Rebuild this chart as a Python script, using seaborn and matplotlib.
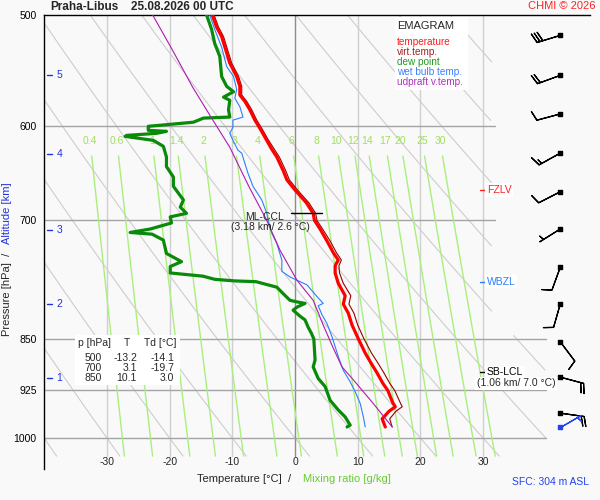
import numpy as np
import matplotlib
matplotlib.use('Agg')
import matplotlib.pyplot as plt
from matplotlib.patches import Rectangle
from matplotlib.lines import Line2D
from matplotlib.ticker import NullLocator
import seaborn as sns

# ---------- sounding ----------
pres_t = [500, 510, 518, 532, 541, 553, 562, 570, 576, 584, 594, 602, 613, 622, 631, 645, 655, 666, 680, 692,
          700, 710, 724, 738, 747, 754, 763, 776, 792, 803, 815, 831, 850, 870, 884, 899, 914, 925, 944, 950,
          957, 969, 982]
temp = [-13.2, -12.5, -11.7, -10.9, -10.4, -9.3, -8.8, -8.8, -8.0, -7.2, -6.4, -5.6, -4.6, -3.8, -2.9, -1.9, -1.3, 0.0, 1.8, 2.9,
        3.1, 4.0, 5.1, 6.1, 6.9, 6.4, 6.4, 6.9, 8.0, 7.7, 8.5, 9.1, 10.1, 11.2, 12.1, 13.1, 14.0, 14.8, 15.6, 16.0,
        15.0, 13.9, 14.4]
virt_temp = [-12.9, -12.2, -11.4, -10.6, -10.1, -9.0, -8.5, -8.5, -7.7, -6.9, -6.1, -5.3, -4.3, -3.4, -2.5, -1.5, -0.9, 0.4, 2.2, 3.3,
             3.5, 4.4, 5.6, 6.6, 7.4, 7.0, 7.1, 7.7, 8.9, 8.6, 9.4, 10.0, 11.0, 12.2, 13.2, 14.2, 15.1, 15.9, 16.8, 17.1,
             16.1, 15.1, 15.5]

pres_td = [500, 512, 524, 535, 553, 562, 567, 572, 575, 584, 591, 592, 596, 599, 600, 604, 605, 607, 609, 610,
           614, 620, 631, 641, 652, 662, 677, 685, 692, 696, 703, 710, 714, 716, 723, 739, 749, 755, 763, 767,
           771, 773, 774, 781, 790, 798, 800, 802, 807, 811, 819, 824, 834, 842, 850, 880, 890, 907, 919, 940,
           955, 966, 979, 982]
dewp = [-14.1, -13.3, -12.8, -12.0, -11.7, -10.9, -9.8, -11.4, -10.4, -10.6, -10.4, -14.6, -16.2, -21.5, -23.4, -23.4, -20.5, -22.1, -26.8, -27.1,
        -22.6, -21.0, -20.5, -20.5, -19.4, -19.4, -17.8, -18.3, -17.3, -19.9, -19.7, -23.1, -26.3, -22.8, -21.0, -20.5, -18.1, -19.9, -19.9, -14.7,
        -12.8, -9.6, -6.2, -2.9, -1.8, -0.8, 0.3, 1.6, 0.3, -0.3, 0.8, 1.6, 2.1, 2.6, 3.0, 3.2, 2.9, 3.7, 4.8, 5.6,
        6.9, 8.0, 8.8, 8.3]

pres_tw = [500, 512, 527, 544, 553, 565, 573, 581, 591, 594, 601, 607, 614, 624, 627, 648, 662, 677, 692, 700,
           715, 727, 747, 761, 768, 778, 793, 802, 805, 817, 829, 847, 875, 895, 912, 927, 945, 966, 982]
wetbulb = [-13.6, -12.8, -11.7, -10.9, -9.8, -9.3, -9.6, -8.8, -8.3, -9.9, -9.9, -10.4, -9.9, -9.1, -8.5, -7.5, -6.7, -5.3, -4.5, -4.3,
           -3.7, -2.9, -2.1, -2.1, -0.8, 1.9, 3.5, 4.5, 3.7, 4.3, 5.1, 5.9, 6.9, 7.7, 8.8, 9.6, 10.4, 10.9, 11.2]

pres_par = [500, 530, 563, 594, 621, 663, 700, 735, 772, 798, 831, 863, 890, 909, 944, 982]
parcel_tv = [-22.7, -19.5, -16.3, -13.1, -10.4, -7.3, -4.5, -2.4, 0.3, 2.9, 4.5, 6.1, 7.5, 9.3, 12.4, 15.5]

# altitude marks [km] and their pressure
alt_km = [1, 2, 3, 4, 5]
alt_p = [906, 803, 711, 628, 552]

# winds every 0.5 km + surface
wind_p = [517, 552, 588, 627, 668, 710, 756, 803, 854, 905, 960]
wind_dir = [253, 250, 255, 241, 243, 238, 200, 196, 143, 105, 98]
wind_kt = [30, 20, 10, 15, 10, 5, 10, 10, 10, 20, 20]
sfc_p, sfc_dir, sfc_kt = 982, 60, 5

# special levels
level_names = ['FZLV', 'WBZL', 'SB-LCL']
level_p = [666, 774, 898]
level_colors = ['#ff2020', '#2a7fff', 'black']
lcl_info = '(1.06 km/ 7.0 °C)'
ccl_p, ccl_t = 692, 2.6
ccl_info = '(3.18 km/ 2.6 °C)'

# table
table_p = [500, 700, 850]
table_t = [-13.2, 3.1, 10.1]
table_td = [-14.1, -19.7, 3.0]

# background isopleths
mix_ratios = [0.4, 0.6, 1, 1.4, 2, 3, 4, 6, 8, 10, 12, 14, 17, 20, 25, 30]
theta_1000 = list(range(-60, 140, 10))
iso_temps = [-30, -20, -10, 0, 10, 20, 30]
p_levels = [500, 600, 700, 850, 925, 1000]

BG = '#f9f9f9'
C_MIX = '#a8f07e'
C_MIXTXT = '#9fe05a'
C_BLUE = '#2233dd'

sns.set_theme(style='white')
plt.rcParams['font.family'] = ['Liberation Sans', 'DejaVu Sans']
plt.rcParams['font.size'] = 7.5

fig = plt.figure(figsize=(6, 5), dpi=100, facecolor=BG)
# x: 0 C at 295 px, 6.27 px / C ; y: 500 hPa at 15 px, 610.4 px per ln p
ax = fig.add_axes([44.2 / 600, 31 / 500, 545.5 / 600, 454 / 500])
ax.set_facecolor(BG)
ax.set_yscale('log')
ax.set_xlim(-40, 47)
ax.set_ylim(1052, 500)


def px(x, y):
    return x / 600, 1 - y / 500


def t_sat(w, p):
    e = w * p / (622.0 + w)
    lg = np.log(e / 6.112)
    return 243.5 * lg / (17.67 - lg)


# dry adiabats
pp = np.linspace(500, 1030, 400)
lim = np.where(pp < 845, 31.4, 40.0)
for th in theta_1000:
    tt = (th + 273.15) * (pp / 1000.0) ** 0.2857 - 273.15
    tt = np.where((tt <= lim) & (tt >= -40), tt, np.nan)
    ax.plot(tt, pp, color='#cdcdcd', lw=0.8, zorder=1)

# isotherms
for t in iso_temps:
    ax.plot([t, t], [500, 1030], color='#8c8c8c' if t == 0 else '#d0d0d0', lw=1, zorder=1.2)

# isobars
for p in p_levels[1:]:
    ax.plot([-40, 31.9 if p < 800 else 40], [p, p], color='#a4a4a4', lw=1, zorder=1.2)

# mixing ratio lines
pm = np.linspace(630, 1030, 50)
for w in mix_ratios:
    ax.plot(t_sat(w, pm), pm, color=C_MIX, lw=1, zorder=1.5)
    ax.text(t_sat(w, 615), 615, f'{w:g}', color=C_MIXTXT, ha='center', va='center', fontsize=7.5, zorder=1.5)

# profiles
sns.lineplot(x=virt_temp, y=pres_t, sort=False, estimator=None, color='#990000', lw=0.8, ax=ax, zorder=3)
sns.lineplot(x=temp, y=pres_t, sort=False, estimator=None, color='#ff0000', lw=2.3, ax=ax, zorder=3.2)
sns.lineplot(x=dewp, y=pres_td, sort=False, estimator=None, color='#098a09', lw=2.3, ax=ax, zorder=3.1)
sns.lineplot(x=wetbulb, y=pres_tw, sort=False, estimator=None, color='#2a7fff', lw=0.8, ax=ax, zorder=3.3)
sns.lineplot(x=parcel_tv, y=pres_par, sort=False, estimator=None, color='#b01ab0', lw=0.8, ax=ax, zorder=3.4)

# temperature labels
for t in iso_temps:
    ax.text(t, 1040, str(t), ha='center', va='center', fontsize=7.5)

# altitude marks
for km, p in zip(alt_km, alt_p):
    ax.plot([-39.6, -38.7], [p, p], color=C_BLUE, lw=1, zorder=2)
    ax.text(-37.6, p, str(km), color=C_BLUE, ha='center', va='center', fontsize=7.5)

# CCL
ax.plot([ccl_t - 3.2, ccl_t + 1.7], [ccl_p, ccl_p], color='black', lw=1, zorder=4)
fig.text(*px(265, 217), 'ML-CCL', ha='center', va='center', fontsize=7.5)
fig.text(*px(270, 227), ccl_info, ha='center', va='center', fontsize=7.5)

# levels on the right
for name, p, c in zip(level_names, level_p, level_colors):
    ax.plot([29.5, 30.3], [p, p], color=c, lw=1, zorder=5)
    ax.text(30.6, p, name, color=c, ha='left', va='center', fontsize=7.5, zorder=5,
            bbox=dict(fc='white', ec='none', pad=1.2))
ax.text(29.0, 914, lcl_info, ha='left', va='center', fontsize=7.5, zorder=5,
        bbox=dict(fc='white', ec='none', pad=1.0))

# wind barbs
d = np.deg2rad(wind_dir)
u = -np.array(wind_kt) * np.sin(d)
v = -np.array(wind_kt) * np.cos(d)
xb = 42.3
ax.barbs([xb] * len(wind_p), wind_p, u, v, length=5.9, lw=0.9, color='black', clip_on=False, zorder=6)
ax.scatter([xb] * len(wind_p), wind_p, marker='s', s=5, color='black', zorder=6, clip_on=False)
ds = np.deg2rad(sfc_dir)
ax.barbs([xb], [sfc_p], [-sfc_kt * np.sin(ds)], [-sfc_kt * np.cos(ds)], length=5.9, lw=0.9,
         color='#2244ee', clip_on=False, zorder=6)
ax.scatter([xb], [sfc_p], marker='s', s=5, color='#2244ee', zorder=6, clip_on=False)

# axes styling
ax.set_xticks([])
ax.set_yticks(p_levels)
ax.set_yticklabels([str(p) for p in p_levels])
ax.yaxis.set_minor_locator(NullLocator())
ax.tick_params(axis='y', length=0, pad=5.5, labelsize=7.5, labelcolor='black')
for s in ['right', 'bottom']:
    ax.spines[s].set_visible(False)
for s in ['left', 'top']:
    ax.spines[s].set_color('black')
    ax.spines[s].set_linewidth(1)

# legend box
fig.patches.append(Rectangle(px(395, 90), 73 / 600, 73 / 500, transform=fig.transFigure,
                             fc='white', ec='none', zorder=2))
fig.text(*px(397, 26), 'EMAGRAM', ha='left', va='center', fontsize=8)
legend_items = [('temperature', '#ff1a1a'), ('virt.temp.', '#a02020'), ('dew point', '#1f9a1f'),
                ('wet bulb temp.', '#3a80ff'), ('udpraft v.temp.', '#b030c0')]
for i, (lab, c) in enumerate(legend_items):
    fig.text(*px(397, 42 + 10 * i), lab, color=c, ha='left', va='center', fontsize=7.2)

# table box
fig.patches.append(Rectangle(px(75, 385), 105 / 600, 50 / 500, transform=fig.transFigure,
                             fc='white', ec='none', zorder=2))
fig.text(*px(78, 343), 'p [hPa]', ha='left', va='center', fontsize=7.5)
fig.text(*px(127, 343), 'T', ha='center', va='center', fontsize=7.5)
fig.text(*px(144, 343), 'Td [°C]', ha='left', va='center', fontsize=7.5)
for i, (p, t, td) in enumerate(zip(table_p, table_t, table_td)):
    y = 358 + 10 * i
    fig.text(*px(102, y), str(p), ha='right', va='center', fontsize=7.5)
    fig.text(*px(137, y), f'{t:.1f}', ha='right', va='center', fontsize=7.5)
    fig.text(*px(174, y), f'{td:.1f}', ha='right', va='center', fontsize=7.5)

# titles and axis labels
fig.text(*px(50, 7), 'Praha-Libus', weight='bold', ha='left', va='center', fontsize=8.5)
fig.text(*px(131, 7), '25.08.2026 00 UTC', weight='bold', ha='left', va='center', fontsize=8.5)
fig.text(*px(596, 6), 'CHMI © 2026', color='#ff2222', ha='right', va='center', fontsize=8)
fig.text(*px(197, 479), 'Temperature [°C]  /', ha='left', va='center', fontsize=8)
fig.text(*px(303, 479), 'Mixing ratio [g/kg]', color='#66cc33', ha='left', va='center', fontsize=8)
fig.text(*px(7.5, 336), 'Pressure [hPa]  /', rotation=90, ha='center', va='bottom', fontsize=8)
fig.text(*px(7.5, 244), 'Altitude [km]', color=C_BLUE, rotation=90, ha='center', va='bottom', fontsize=8)
fig.text(*px(589, 482), 'SFC: 304 m ASL', color='#2244ee', ha='right', va='center', fontsize=7.5)

fig.savefig('out.png', dpi=100, facecolor=BG)
plt.close(fig)
